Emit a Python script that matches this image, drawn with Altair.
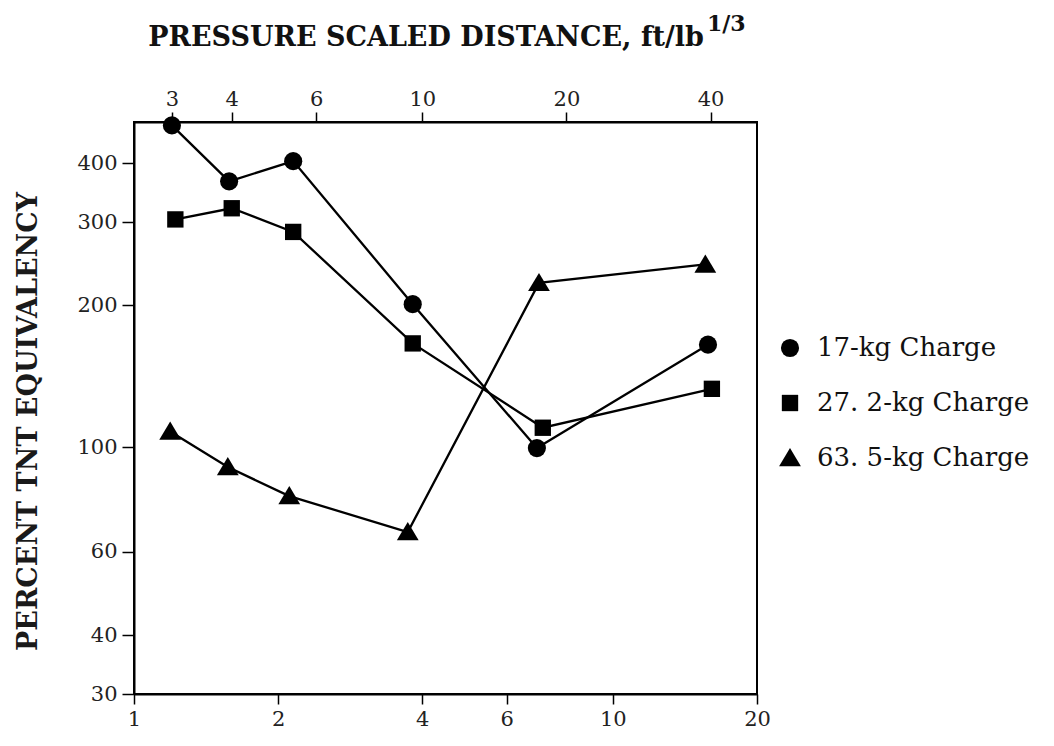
import altair as alt
import pandas as pd

# ---- data ----
series_names = ["17-kg Charge", "27. 2-kg Charge", "63. 5-kg Charge"]

x_17 = [1.20, 1.58, 2.15, 3.82, 6.94, 15.8]
y_17 = [481, 366, 404, 201, 99.6, 165]

x_27 = [1.22, 1.60, 2.15, 3.82, 7.14, 16.1]
y_27 = [304, 321, 286, 166, 110, 133]

x_63 = [1.19, 1.57, 2.11, 3.73, 7.01, 15.6]
y_63 = [108, 90.8, 78.8, 66.1, 223, 244]

bottom_ticks = [1, 2, 4, 6, 10, 20]
top_ticks = [3, 4, 6, 10, 20, 40]
y_ticks = [30, 40, 60, 100, 200, 300, 400]

rows = []
for name, xs, ys in zip(series_names, [x_17, x_27, x_63], [y_17, y_27, y_63]):
    for i, (a, b) in enumerate(zip(xs, ys)):
        rows.append({"series": name, "x": a, "y": b, "i": i})
df = pd.DataFrame(rows)
top_df = pd.DataFrame({"t": top_ticks})

FONT = "DejaVu Serif"

xscale = alt.Scale(type="log", domain=[1, 20], nice=False)
yscale = alt.Scale(type="log", domain=[30, 489], nice=False)

xaxis = alt.Axis(values=bottom_ticks, title=None, grid=False, tickSize=10,
                 tickColor="black", tickWidth=1.5, domainColor="black", domainWidth=2,
                 labelFont=FONT, labelFontSize=21, labelColor="#222", labelPadding=4,
                 labelFlush=False, format="d")
yaxis = alt.Axis(values=y_ticks, title="PERCENT TNT EQUIVALENCY", grid=False, tickSize=12,
                 tickColor="black", tickWidth=1.5, domainColor="black", domainWidth=2,
                 labelFont=FONT, labelFontSize=21, labelColor="#222", labelPadding=5,
                 labelFlush=False, format="d",
                 titleFont=FONT, titleFontSize=27, titleFontWeight="bold", titleColor="#1a1a1a",
                 titleAngle=270, titleX=-106, titleY=299, titleAlign="center",
                 titleBaseline="middle")

circle_path = "circle"
square_path = "M-0.9,-0.9H0.9V0.9H-0.9Z"
triangle_path = "M0,-1.1L1.2,0.9L-1.2,0.9Z"

lines = alt.Chart(df).mark_line(color="black", strokeWidth=2.3).encode(
    x=alt.X("x:Q", scale=xscale, axis=xaxis),
    y=alt.Y("y:Q", scale=yscale, axis=yaxis),
    detail="series:N",
    order="i:Q",
)

points = alt.Chart(df).mark_point(filled=True, opacity=1, color="black", size=330).encode(
    x=alt.X("x:Q", scale=xscale),
    y=alt.Y("y:Q", scale=yscale),
    shape=alt.Shape("series:N",
                    scale=alt.Scale(domain=series_names,
                                    range=[circle_path, square_path, triangle_path]),
                    legend=alt.Legend(title=None, orient="none", legendX=643, legendY=213,
                                      labelFont=FONT, labelFontSize=26, labelColor="#111",
                                      labelLimit=400,
                                      symbolSize=330, symbolFillColor="#0b2a10",
                                      symbolStrokeColor="#0b2a10",
                                      rowPadding=29, labelOffset=14)),
)

main = alt.layer(lines, points)

top_axis = alt.Chart(top_df).mark_point(opacity=0).encode(
    x=alt.X("t:Q", scale=alt.Scale(type="log", domain=[2.5, 50], nice=False),
            axis=alt.Axis(orient="top", values=top_ticks, title=None, grid=False, tickSize=10,
                          tickColor="black", tickWidth=1.5, domainColor="black", domainWidth=2,
                          labelFont=FONT, labelFontSize=21, labelColor="#222", labelPadding=3,
                          labelFlush=False, format="d")),
    y=alt.value(0),
)

title_main = alt.Chart(pd.DataFrame({"t": ["PRESSURE SCALED DISTANCE,  ft/lb"]})).mark_text(
    font=FONT, fontSize=27, fontWeight="bold", align="right", baseline="alphabetic", color="#111"
).encode(text="t:N", x=alt.value(570), y=alt.value(-76))

title_sup = alt.Chart(pd.DataFrame({"t": ["1/3"]})).mark_text(
    font=FONT, fontSize=22, fontWeight="bold", align="left", baseline="alphabetic", color="#111"
).encode(text="t:N", x=alt.value(573), y=alt.value(-91))

chart = alt.layer(main, top_axis, title_main, title_sup).resolve_scale(
    x="independent"
).properties(
    width=623, height=572,
    autosize=alt.AutoSizeParams(type="none"),
    padding={"left": 134, "top": 122, "right": 297, "bottom": 52},
    background="white",
).configure_view(stroke="black", strokeWidth=2)

chart.save("out.html", embed_options={"renderer": "svg", "actions": False})
